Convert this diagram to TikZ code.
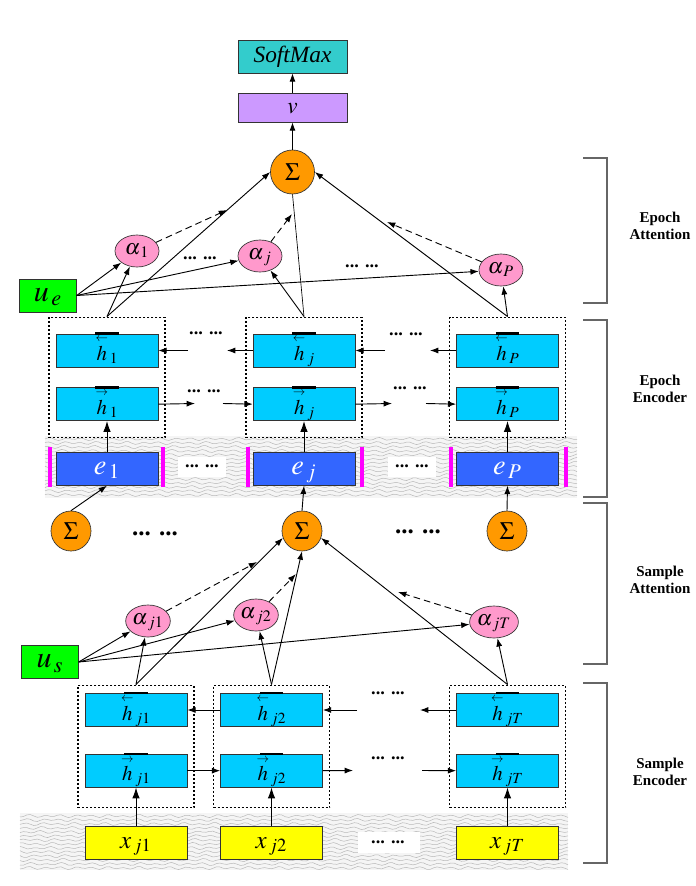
\documentclass[tikz,border=0pt]{standalone}
\usepackage{amsmath}
\usepackage{mathptmx}
\usepackage{fontspec}
\setmainfont{Liberation Serif}
\usepackage{xcolor}
\usepackage{tikz}
\usetikzlibrary{shapes.geometric,arrows.meta,positioning,calc,fit}
\definecolor{hblue}{HTML}{00CCFF}
\definecolor{eblue}{HTML}{3366FF}
\definecolor{xyellow}{HTML}{FFFF00}
\definecolor{sumorange}{HTML}{FF9900}
\definecolor{alphapink}{HTML}{FF99CC}
\definecolor{ugreen}{HTML}{00FF00}
\definecolor{softteal}{HTML}{33CCCC}
\definecolor{vpurple}{HTML}{CC99FF}
\definecolor{magbar}{HTML}{FF00FF}
\definecolor{edge}{HTML}{333333}
\definecolor{bandgray}{HTML}{F5F5F5}
\definecolor{wave}{HTML}{B8B8B8}

\newcommand{\hfw}[1]{\overset{\scriptscriptstyle\rightarrow}{h}_{\,#1}}
\newcommand{\hbw}[1]{\overset{\scriptscriptstyle\leftarrow}{h}_{\,#1}}

\begin{document}
\begin{tikzpicture}[x=0.6pt,y=-0.6pt,
    box/.style={rectangle, draw=edge, minimum width=61.2pt, minimum height=19.8pt,
                inner sep=0pt, text height=11pt, text depth=4pt},
    hbox/.style={box, fill=hblue, text height=15pt, text depth=3pt,
                 font=\fontsize{12.5}{12.5}\selectfont},
    ebox/.style={box, fill=eblue, text=white, font=\fontsize{17}{17}\selectfont},
    xbox/.style={box, fill=xyellow, font=\fontsize{15}{15}\selectfont},
    topbox/.style={box, minimum width=65.4pt, font=\fontsize{14}{14}\selectfont},
    ubox/.style={box, fill=ugreen, minimum width=34pt, font=\fontsize{18}{18}\selectfont},
    sumnode/.style={circle, draw=edge, fill=sumorange, minimum size=24pt,
                    inner sep=0pt, font=\fontsize{15}{15}\selectfont},
    alphanode/.style={ellipse, draw=edge, fill=alphapink, minimum width=26.4pt,
                      minimum height=19.2pt, inner sep=0pt, text height=7pt,
                      text depth=3pt, font=\fontsize{13}{13}\selectfont},
    group/.style={rectangle, draw, dash pattern=on 1.2pt off 1.2pt, line width=0.8pt,
                  inner xsep=4pt, inner ysep=9.9pt},
    dots/.style={font=\bfseries\fontsize{11}{11}\selectfont, inner sep=1pt},
    partname/.style={font=\bfseries\fontsize{9}{10.5}\selectfont, align=center},
    bracket/.style={draw=black!60, line width=0.7pt},
    arr/.style={-{Latex[length=5pt,width=3.6pt]}, line width=0.55pt},
    bigarr/.style={-{Latex[length=6.5pt,width=4.5pt]}, line width=0.6pt},
    dasharr/.style={arr, dash pattern=on 4pt off 2.5pt},
]
\fill[white] (0,0) rectangle (695,886);
\useasboundingbox (0,0) rectangle (695,886);

% signal bands
\fill[bandgray] (45,436) rectangle (577,498);
\foreach \yy [evaluate=\yy as \ph using {mod(7*\yy,360)}] in {439,443,...,495}
  \draw[wave, line width=0.3pt] plot[domain=45:577, samples=160, smooth]
    (\x, {\yy+1.0*sin(23*\x+\ph)+0.6*sin(13*\x+2*\ph)});
\fill[bandgray] (20,813) rectangle (568,870);
\foreach \yy [evaluate=\yy as \ph using {mod(7*\yy,360)}] in {816,820,...,868}
  \draw[wave, line width=0.3pt] plot[domain=20:568, samples=160, smooth]
    (\x, {\yy+1.0*sin(23*\x+\ph)+0.6*sin(13*\x+2*\ph)});
\fill[white] (178,457) rectangle (226,477);
\fill[white] (388,457) rectangle (436,477);
\fill[white] (358,832) rectangle (420,853);
\foreach \xx in {50,163,248,362,451,566}
  \draw[magbar, line width=2.4pt] (\xx,447) -- (\xx,487);

% top
\node[topbox, fill=softteal] (softmax) at (292.5,56.5) {\textit{SoftMax}};
\node[topbox, fill=vpurple, minimum height=17.4pt] (vnode) at (292.5,107.5) {$v$};
\node[sumnode, minimum size=26.4pt] (sumtop) at (292.5,172) {$\Sigma$};

% epoch attention
\node[alphanode] (a1) at (137,251) {$\alpha_{\,1}$};
\node[alphanode] (aj) at (260,256) {$\alpha_{\,j}$};
\node[alphanode] (aP) at (501,270) {$\alpha_{\,P}$};
\node[ubox] (ue) at (48,295.5) {$u_{\,e}$};
\node[dots] (dA1) at (200,258) {... ...};
\node[dots] (dA2) at (362,266) {... ...};

% epoch encoder
\node[hbox] (hb1) at (107,350.5) {$\hbw{1}$};
\node[hbox,below=12pt of hb1] (hf1) {$\hfw{1}$};
\node[ebox,below=18.6pt of hf1] (e1) {$e_{\,1}$};
\node[hbox] (hbj) at (304,350.5) {$\hbw{j}$};
\node[hbox,below=12pt of hbj] (hfj) {$\hfw{j}$};
\node[ebox,below=18.6pt of hfj] (ej) {$e_{\,j}$};
\node[hbox] (hbP) at (507.5,350.5) {$\hbw{P}$};
\node[hbox,below=12pt of hbP] (hfP) {$\hfw{P}$};
\node[ebox,below=18.6pt of hfP] (eP) {$e_{\,P}$};
\node[group,fit=(hb1)(hf1)] (g1) {};
\node[group,fit=(hbj)(hfj)] (gj) {};
\node[group,fit=(hbP)(hfP)] (gP) {};
\node[dots] (dB1) at (206,333) {... ...};
\node[dots] (dB2) at (204,391) {... ...};
\node[dots] (dB3) at (406,334) {... ...};
\node[dots] (dB4) at (410,388) {... ...};
\node[dots] (dE1) at (202,466) {... ...};
\node[dots] (dE2) at (412,466) {... ...};

% sums
\node[sumnode] (s1) at (71,531) {$\Sigma$};
\node[sumnode] (sj) at (302,531) {$\Sigma$};
\node[sumnode] (sP) at (507,531) {$\Sigma$};
\node[dots, font=\bfseries\fontsize{15}{15}\selectfont] (dS1) at (155,534) {... ...};
\node[dots, font=\bfseries\fontsize{15}{15}\selectfont] (dS2) at (418,532) {... ...};

% sample attention
\node[alphanode] (aj1) at (148,621) {$\alpha_{\,j1}$};
\node[alphanode] (aj2) at (256,615) {$\alpha_{\,j2}$};
\node[alphanode] (ajT) at (494,622) {$\alpha_{\,jT}$};
\node[ubox] (us) at (50,662) {$u_{\,s}$};

% sample encoder
\node[hbox] (hbj1) at (136,710) {$\hbw{j1}$};
\node[hbox,below=16.2pt of hbj1] (hfj1) {$\hfw{j1}$};
\node[xbox,below=22.8pt of hfj1] (xj1) {$x_{\,j1}$};
\node[hbox] (hbj2) at (271.5,710) {$\hbw{j2}$};
\node[hbox,below=16.2pt of hbj2] (hfj2) {$\hfw{j2}$};
\node[xbox,below=22.8pt of hfj2] (xj2) {$x_{\,j2}$};
\node[hbox] (hbjT) at (507.5,710) {$\hbw{jT}$};
\node[hbox,below=16.2pt of hbjT] (hfjT) {$\hfw{jT}$};
\node[xbox,below=22.8pt of hfjT] (xjT) {$x_{\,jT}$};
\node[group,fit=(hbj1)(hfj1),inner ysep=8.4pt,yshift=-3.6pt] (gs1) {};
\node[group,fit=(hbj2)(hfj2),inner ysep=8.4pt,yshift=-3.6pt] (gs2) {};
\node[group,fit=(hbjT)(hfjT),inner ysep=8.4pt,yshift=-3.6pt] (gsT) {};
\node[dots] (dC1) at (388,693) {... ...};
\node[dots] (dC2) at (388,758) {... ...};
\node[dots] (dC3) at (388,842) {... ...};

% bars on the hidden states
\foreach \n in {hb1,hf1,hbj,hfj,hbP,hfP,hbj1,hfj1,hbj2,hfj2,hbjT,hfjT}
  \draw[line width=1.5pt] ([xshift=-7pt]\n.north) -- ([xshift=7pt]\n.north);

% brackets
\foreach \ya/\yb in {158/303,320/497,503/664,683/863}
  \draw[bracket] (583,\ya) -- (607,\ya) -- (607,\yb) -- (583,\yb);
\node[partname] (lEA) at (660,226) {Epoch\\Attention};
\node[partname] (lEE) at (660,389) {Epoch\\Encoder};
\node[partname] (lSA) at (660,580) {Sample\\Attention};
\node[partname] (lSE) at (660,772) {Sample\\Encoder};

% free ends
\coordinate (d1) at (227,210);
\coordinate (dj) at (292,214);
\coordinate (dP) at (387,222);
\coordinate (ds1) at (257,562);
\coordinate (ds2) at (296,574);
\coordinate (dsT) at (398,592);
\coordinate (ebl1) at (227,350.5);
\coordinate (ebl2) at (188,350.5);
\coordinate (ebr1) at (430,350.5);
\coordinate (ebr2) at (385,350.5);
\coordinate (efl1) at (195,403.5);
\coordinate (efl2) at (223,403.5);
\coordinate (efr1) at (392,403.5);
\coordinate (efr2) at (426,403.5);
\coordinate (sbl) at (357,710);
\coordinate (sbr) at (420,710);
\coordinate (sfl) at (353,770.5);
\coordinate (sfr) at (422,770.5);

% top
\draw[arr] (vnode) -- (softmax);
\draw[arr] (sumtop) -- (vnode);

% epoch attention
\draw[arr] (ue.east) -- (a1);
\draw[arr] (ue.east) -- (aj);
\draw[arr] (ue.east) -- (aP);
\draw[arr] (g1.north) -- (a1);
\draw[arr] (g1.north) -- (sumtop.west);
\draw[arr] (gj.north) -- (aj);
\draw (gj.north) -- (sumtop.south);
\draw[arr] (gP.north) -- (aP);
\draw[arr] (gP.north) -- (sumtop.east);
\draw[dasharr] (a1) -- (d1);
\draw[dasharr] (aj) -- (dj);
\draw[dasharr] (aP) -- (dP);

% epoch encoder
\draw[arr] (hbj.west) -- (ebl1);
\draw[arr] (ebl2) -- (hb1.east);
\draw[arr] (hbP.west) -- (ebr1);
\draw[arr] (ebr2) -- (hbj.east);
\draw[arr] (hf1.east) -- (efl1);
\draw[arr] (efl2) -- (hfj.west);
\draw[arr] (hfj.east) -- (efr1);
\draw[arr] (efr2) -- (hfP.west);
\draw[bigarr] (e1.north) -- (hf1.south);
\draw[bigarr] (ej.north) -- (hfj.south);
\draw[bigarr] (eP.north) -- (hfP.south);
\draw[arr] (s1.north) -- (e1.south);
\draw[arr] (sj.north) -- (ej.south);
\draw[arr] (sP.north) -- (eP.south);

% sample attention
\draw[arr] (us.east) -- (aj1);
\draw[arr] (us.east) -- (aj2);
\draw[arr] (us.east) -- (ajT);
\draw[arr] (gs1.north) -- (aj1);
\draw[arr] (gs1.north) -- (sj.200);
\draw[arr] (gs2.north) -- (aj2);
\draw[arr] (gs2.north) -- (sj.south);
\draw[arr] (gsT.north) -- (ajT);
\draw[arr] (gsT.north) -- (sj.340);
\draw[dasharr] (aj1) -- (ds1);
\draw[dasharr] (aj2) -- (ds2);
\draw[dasharr] (ajT) -- (dsT);

% sample encoder
\draw[arr] (hbj2.west) -- (hbj1.east);
\draw[arr] (sbl) -- (hbj2.east);
\draw[arr] (hbjT.west) -- (sbr);
\draw[arr] (hfj1.east) -- (hfj2.west);
\draw[arr] (hfj2.east) -- (sfl);
\draw[arr] (sfr) -- (hfjT.west);
\draw[bigarr] (xj1.north) -- (hfj1.south);
\draw[bigarr] (xj2.north) -- (hfj2.south);
\draw[bigarr] (xjT.north) -- (hfjT.south);
\end{tikzpicture}
\end{document}
